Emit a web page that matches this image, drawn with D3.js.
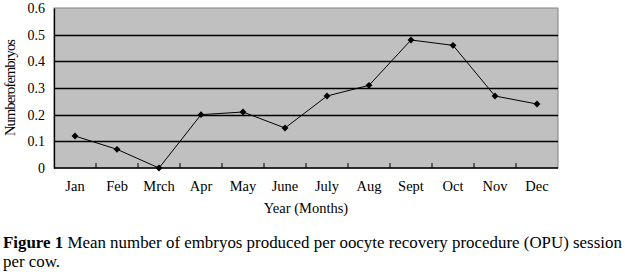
<!DOCTYPE html>
<html>
<head>
<meta charset="utf-8">
<script src="https://cdn.jsdelivr.net/npm/d3@7"></script>
<style>
  body { margin: 0; background: #fff; }
  svg text { font-family: "Liberation Serif", "DejaVu Serif", serif; }
</style>
</head>
<body>
<div id="chart"></div>
<script>
const months = ["Jan", "Feb", "Mrch", "Apr", "May", "June", "July", "Aug", "Sept", "Oct", "Nov", "Dec"];
const embryos = [0.12, 0.07, 0, 0.2, 0.21, 0.15, 0.27, 0.31, 0.48, 0.46, 0.27, 0.24];
const yTicks = [0, 0.1, 0.2, 0.3, 0.4, 0.5, 0.6];

const width = 625, height = 279;
const margin = { top: 8, right: 67, bottom: 111, left: 54 };
const serif = "Liberation Serif";

const svg = d3.select("#chart")
  .append("svg")
  .attr("width", width)
  .attr("height", height);

const x = d3.scaleBand()
  .domain(months)
  .range([margin.left, width - margin.right]);

const y = d3.scaleLinear()
  .domain([0, 0.6])
  .range([height - margin.bottom, margin.top]);

// plot background
svg.append("rect")
  .attr("x", margin.left)
  .attr("y", margin.top)
  .attr("width", width - margin.left - margin.right)
  .attr("height", height - margin.top - margin.bottom)
  .attr("fill", "#c0c0c0")
  .attr("stroke", "#808080")
  .attr("stroke-width", 1);

// gridlines
svg.append("g")
  .selectAll("line")
  .data(yTicks.filter(d => d > 0 && d < 0.6))
  .join("line")
  .attr("x1", margin.left)
  .attr("x2", width - margin.right)
  .attr("y1", d => Math.round(y(d)) + 0.5)
  .attr("y2", d => Math.round(y(d)) + 0.5)
  .attr("stroke", "#000")
  .attr("stroke-width", 1.3);

// y axis
svg.append("g")
  .attr("transform", `translate(${margin.left},0)`)
  .call(d3.axisLeft(y).tickValues(yTicks).tickSize(0).tickPadding(9)
    .tickFormat(d => d === 0 ? "0" : d3.format(".1f")(d)))
  .attr("font-family", serif)
  .attr("font-size", 14)
  .call(g => g.select(".domain").attr("stroke", "#000").attr("stroke-width", 1.3))
  .call(g => g.selectAll("text").attr("fill", "#000"));

// x axis with ticks between categories, pointing up
const xAxis = svg.append("g")
  .attr("transform", `translate(0,${height - margin.bottom})`);
xAxis.append("line")
  .attr("x1", margin.left)
  .attr("x2", width - margin.right)
  .attr("stroke", "#000")
  .attr("stroke-width", 1.5);
xAxis.selectAll(".tk")
  .data(months.slice(1))
  .join("line")
  .attr("class", "tk")
  .attr("x1", d => x(d))
  .attr("x2", d => x(d))
  .attr("y1", 0)
  .attr("y2", -5)
  .attr("stroke", "#000");
xAxis.selectAll("text")
  .data(months)
  .join("text")
  .attr("x", d => x(d) + x.bandwidth() / 2)
  .attr("y", 23)
  .attr("text-anchor", "middle")
  .attr("font-family", serif)
  .attr("font-size", 14.5)
  .text(d => d);

// line
const line = d3.line()
  .x((d, i) => x(months[i]) + x.bandwidth() / 2)
  .y(d => y(d));

svg.append("path")
  .datum(embryos)
  .attr("d", line)
  .attr("fill", "none")
  .attr("stroke", "#000")
  .attr("stroke-width", 1);

svg.append("g")
  .selectAll("path")
  .data(embryos)
  .join("path")
  .attr("transform", (d, i) => `translate(${x(months[i]) + x.bandwidth() / 2},${y(d)})`)
  .attr("d", d3.symbol(d3.symbolDiamond2, 30))
  .attr("fill", "#000");

// axis titles
svg.append("text")
  .attr("transform", `translate(15,${(margin.top + height - margin.bottom) / 2}) rotate(-90)`)
  .attr("text-anchor", "middle")
  .attr("font-family", serif)
  .attr("font-size", 14.5)
  .attr("letter-spacing", -0.9)
  .text("Numberofembryos");

svg.append("text")
  .attr("x", (margin.left + width - margin.right) / 2)
  .attr("y", 213)
  .attr("text-anchor", "middle")
  .attr("font-family", serif)
  .attr("font-size", 14.5)
  .text("Year (Months)");

// caption
const cap = svg.append("text")
  .attr("x", 3)
  .attr("y", 248)
  .attr("font-family", serif)
  .attr("font-size", 16.9);
cap.append("tspan").attr("font-weight", "bold").text("Figure 1");
cap.append("tspan").text(" Mean number of embryos produced per oocyte recovery procedure (OPU) session");

svg.append("text")
  .attr("x", 3)
  .attr("y", 267)
  .attr("font-family", serif)
  .attr("font-size", 16.9)
  .text("per cow.");
</script>
</body>
</html>
